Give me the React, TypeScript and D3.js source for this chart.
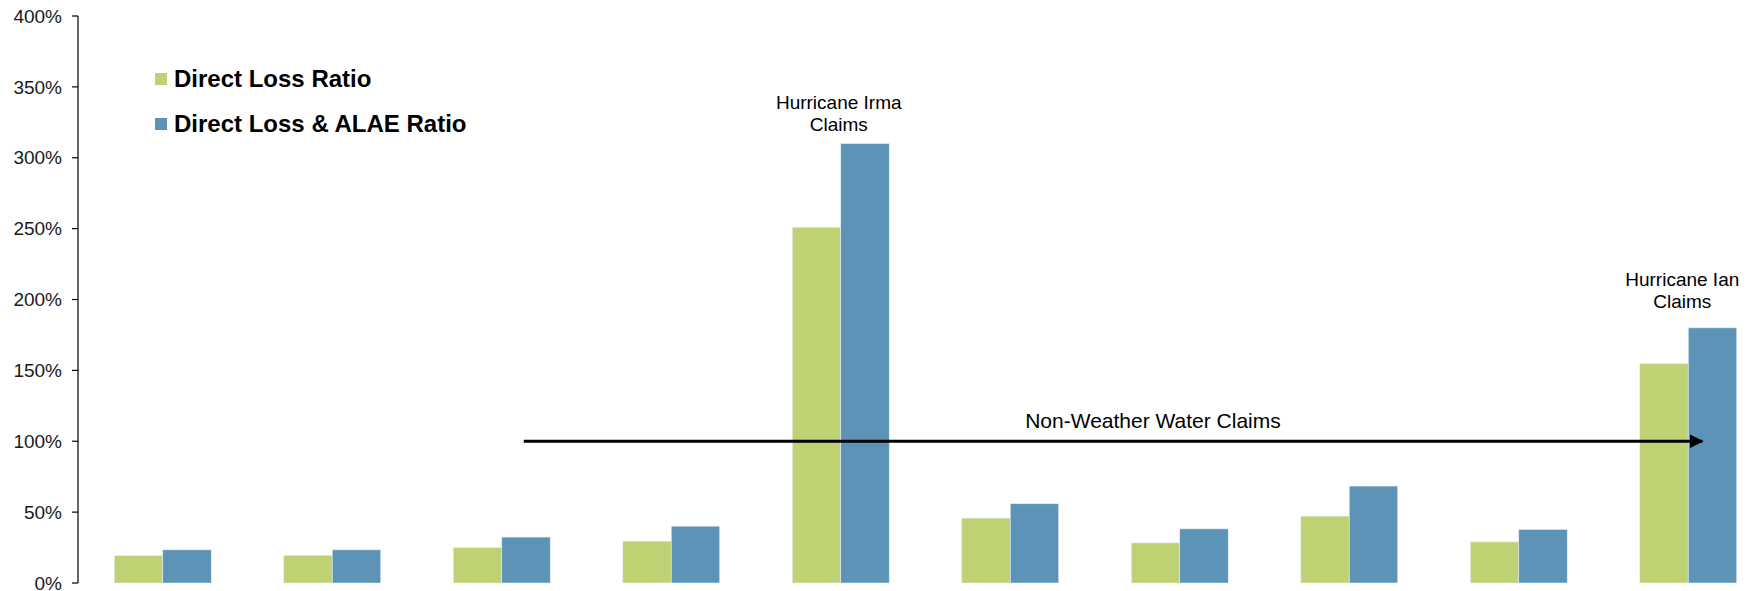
import React from "react";
import * as d3 from "d3";

// Ten accident-period groups, two ratios each (percent)
const groups = ["G1", "G2", "G3", "G4", "G5", "G6", "G7", "G8", "G9", "G10"];
const directLoss = [19.3, 19.5, 25, 29.5, 251, 45.8, 28.3, 47.2, 29, 154.8];
const directLossAlae = [23.4, 23.4, 32.4, 40.1, 310, 55.9, 38.2, 68.4, 37.8, 180];
const seriesNames = ["Direct Loss Ratio", "Direct Loss & ALAE Ratio"];
const seriesColors = ["#BED274", "#5C93B7"];
const yTicks = [0, 50, 100, 150, 200, 250, 300, 350, 400];

const W = 1747;
const H = 591;
const axisX = 78;
const yTop = 16;
const yBottom = 583;

export default function App() {
  const x = d3
    .scaleBand<string>()
    .domain(groups)
    .range([axisX, axisX + 1695])
    .paddingInner(0.428)
    .paddingOuter(0.214);
  const sub = d3.scaleBand<number>().domain([0, 1]).range([0, x.bandwidth()]);
  const y = d3.scaleLinear().domain([0, 400]).range([yBottom, yTop]);
  const series = [directLoss, directLossAlae];
  const font = "'Liberation Sans', Arial, sans-serif";
  const cx = (i: number) => (x(groups[i]) as number) + x.bandwidth() / 2;

  const arrowStart = cx(2) + 22;
  const arrowEnd = cx(9) + 14;

  return (
    <svg
      width={W}
      height={H}
      style={{ position: "absolute", left: 0, top: 0, background: "#fff" }}
      fontFamily={font}
    >
      <defs>
        <marker
          id="arrowhead"
          viewBox="0 0 10 10"
          refX="9"
          refY="5"
          markerWidth="5"
          markerHeight="5"
          orient="auto"
        >
          <path d="M0,0 L10,5 L0,10 z" fill="#000" />
        </marker>
      </defs>

      {/* bars */}
      {groups.map((g, gi) =>
        series.map((vals, si) => (
          <rect
            key={`${g}-${si}`}
            x={(x(g) as number) + (sub(si) as number)}
            y={y(vals[gi])}
            width={sub.bandwidth()}
            height={yBottom - y(vals[gi])}
            fill={seriesColors[si]}
            stroke="#e6eef2"
            strokeWidth={0.6}
          />
        ))
      )}

      {/* y axis */}
      <line x1={axisX} x2={axisX} y1={yTop} y2={yBottom} stroke="#000" strokeWidth={1.2} />
      {yTicks.map((t) => (
        <g key={t}>
          <line x1={axisX - 6} x2={axisX} y1={y(t)} y2={y(t)} stroke="#000" strokeWidth={1.2} />
          <text
            x={axisX - 16}
            y={y(t)}
            dy="0.35em"
            textAnchor="end"
            fontSize={19}
            fill="#1a1a1a"
          >
            {t}%
          </text>
        </g>
      ))}

      {/* legend */}
      {seriesNames.map((name, i) => (
        <g key={name} transform={`translate(155, ${73 + i * 45})`}>
          <rect width={12} height={12} fill={seriesColors[i]} />
          <text x={19} y={13.5} fontSize={24} fontWeight="bold" fill="#000">
            {name}
          </text>
        </g>
      ))}

      {/* annotations */}
      <text textAnchor="middle" fontSize={19} fill="#000">
        <tspan x={cx(4) - 2} y={y(310) - 35}>Hurricane Irma</tspan>
        <tspan x={cx(4) - 2} y={y(310) - 13}>Claims</tspan>
      </text>
      <text textAnchor="middle" fontSize={19} fill="#000">
        <tspan x={cx(9) - 6} y={y(180) - 42}>Hurricane Ian</tspan>
        <tspan x={cx(9) - 6} y={y(180) - 20}>Claims</tspan>
      </text>

      <line
        x1={arrowStart}
        x2={arrowEnd}
        y1={y(100)}
        y2={y(100)}
        stroke="#000"
        strokeWidth={2.8}
        markerEnd="url(#arrowhead)"
      />
      <text x={1153} y={y(100) - 13} textAnchor="middle" fontSize={21} fill="#000">
        Non-Weather Water Claims
      </text>
    </svg>
  );
}
